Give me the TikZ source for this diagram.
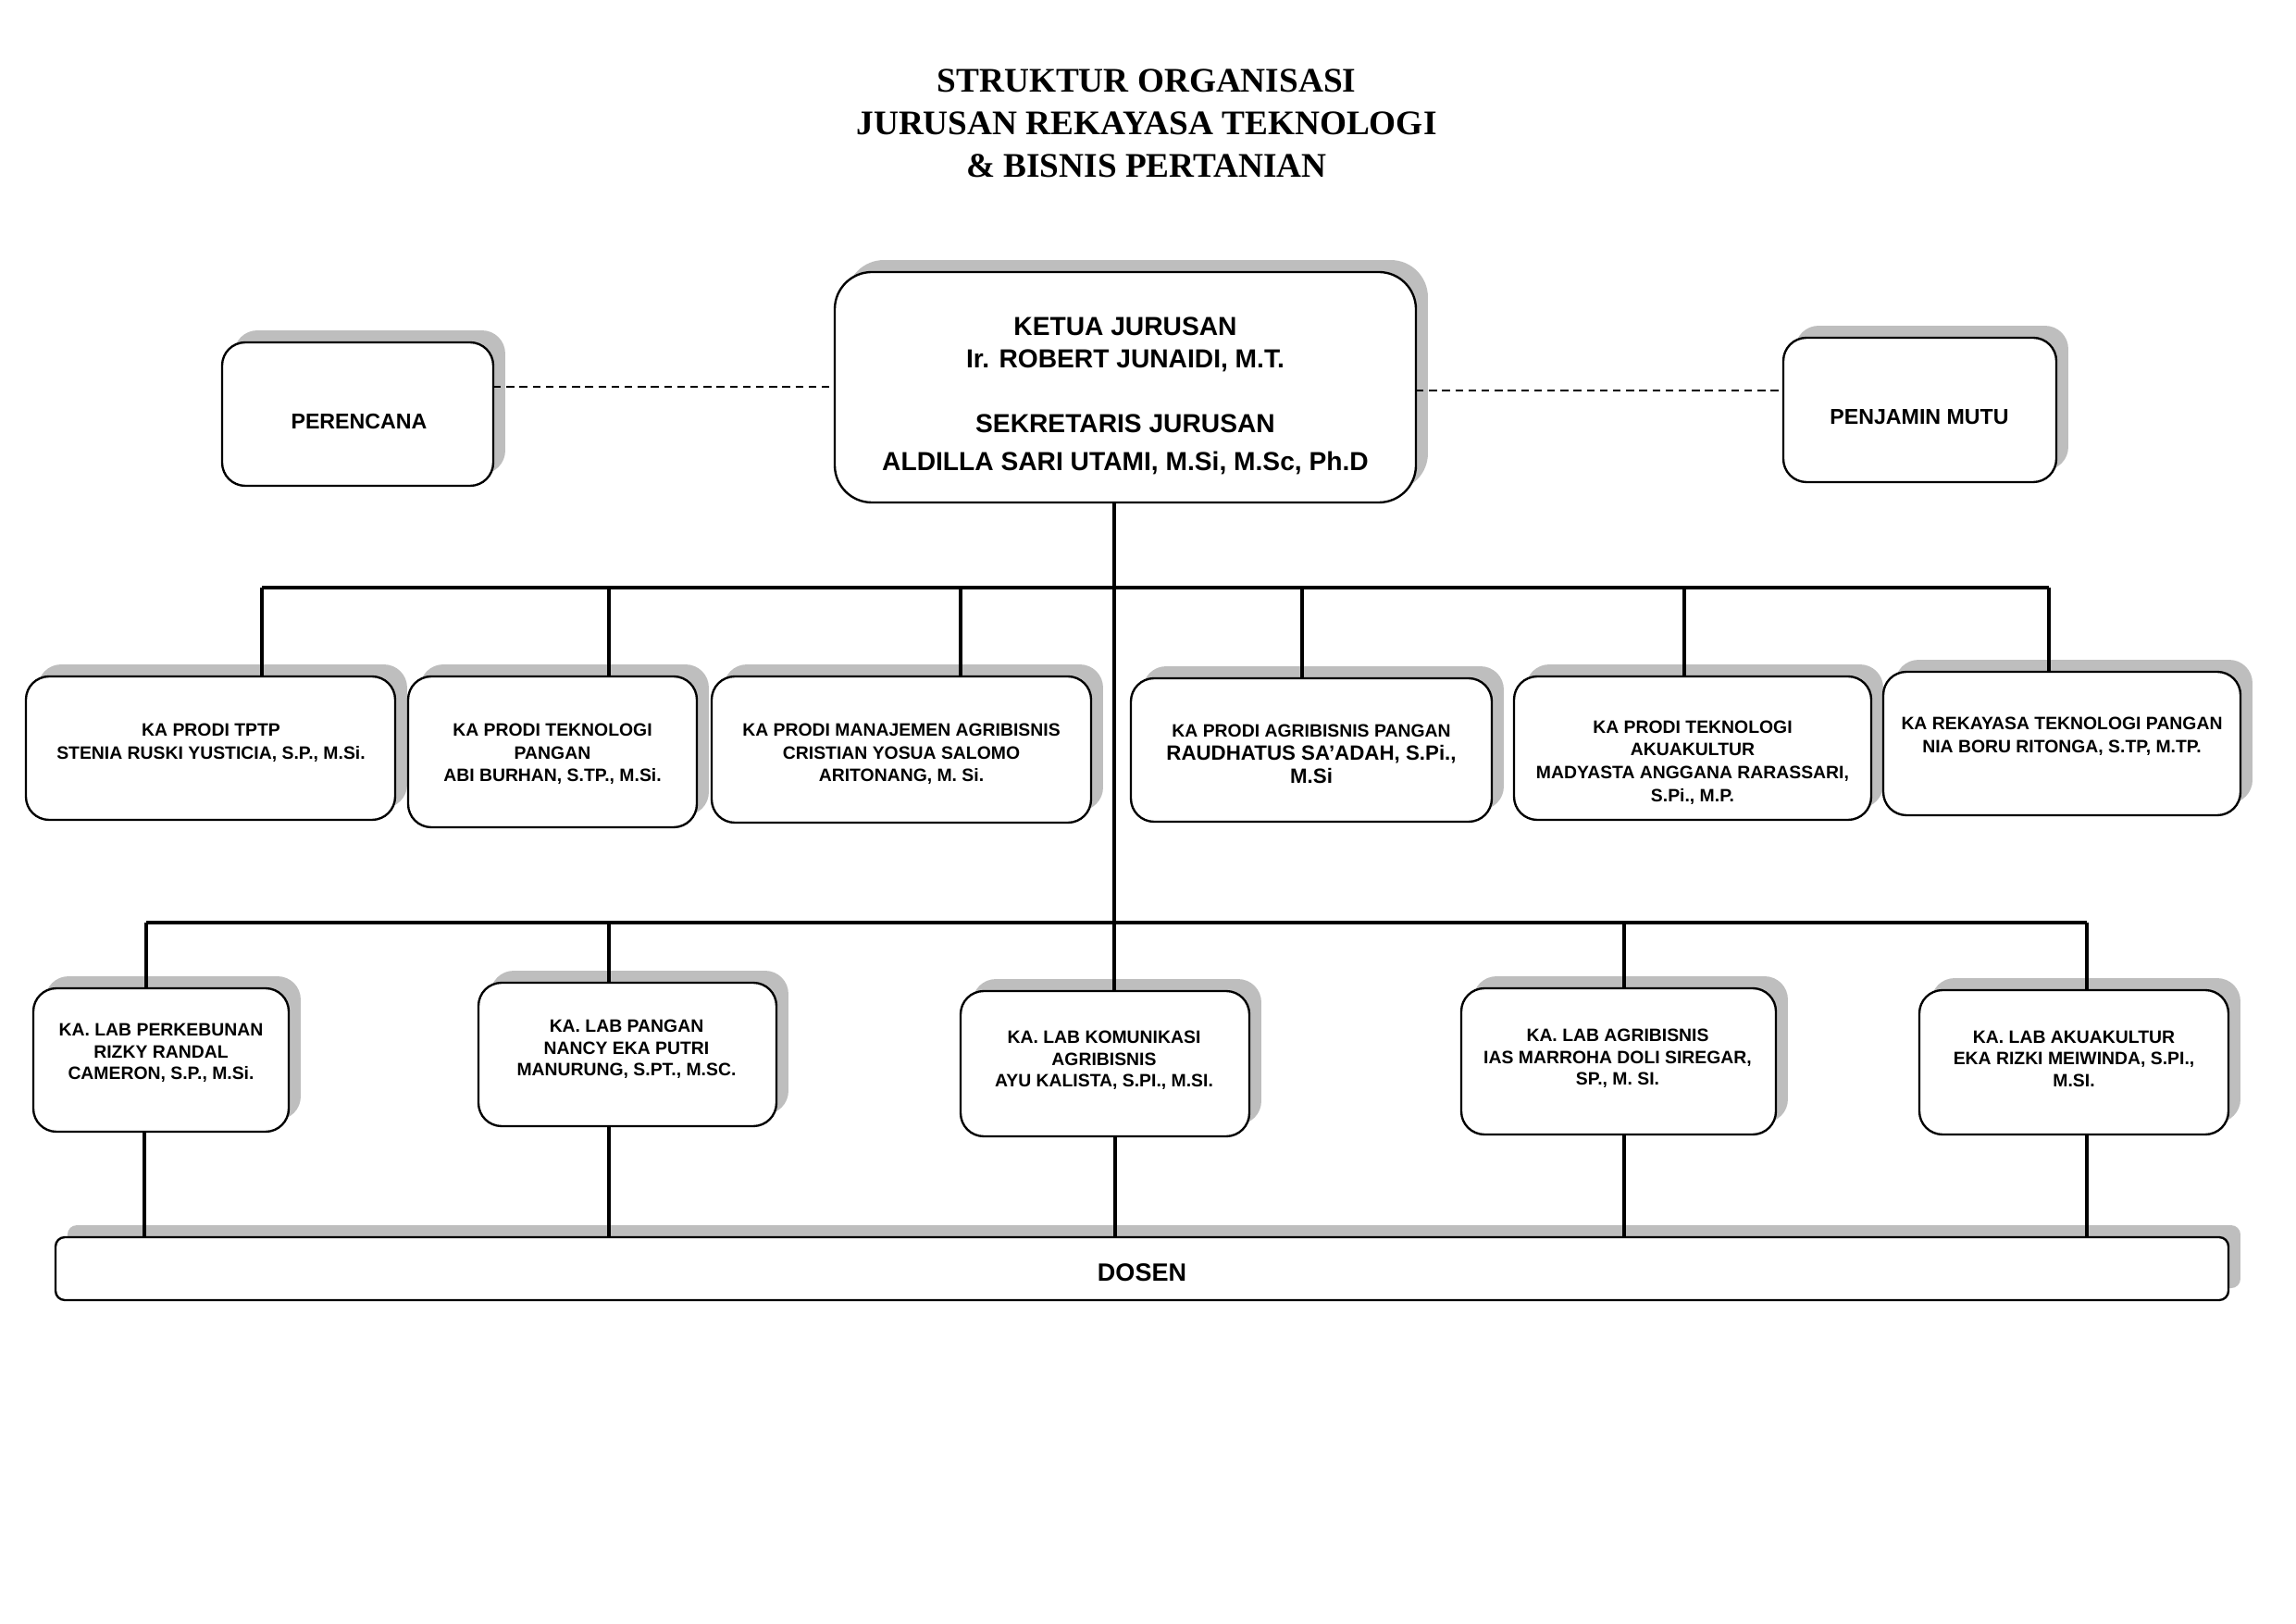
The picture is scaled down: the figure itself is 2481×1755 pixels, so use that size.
\documentclass[tikz,border=0pt]{standalone}
\usepackage{fontspec}
\setmainfont{Liberation Serif}
\newfontfamily\hv{Liberation Sans}[UprightFont={* Bold}]
\usetikzlibrary{shadows,fit}
\definecolor{shadowgray}{RGB}{190,190,190}
\tikzset{
  boxshape/.style={draw=black, line width=0.8pt, fill=white, inner sep=0pt, outer sep=0pt,
    drop shadow={shadow xshift=1.55mm, shadow yshift=1.55mm, fill=shadowgray, opacity=1}},
  bigbox/.style={boxshape, rounded corners=4.8mm},
  smallbox/.style={boxshape, rounded corners=3mm},
  flatbox/.style={boxshape, rounded corners=1.2mm},
  titletext/.style={align=center, inner sep=0pt, font=\fontsize{12.7}{15.7}\selectfont\bfseries},
  kettext/.style={align=center, inner sep=0pt, font=\hv\fontsize{9.6}{11.9}\selectfont},
  ket2text/.style={align=center, inner sep=0pt, font=\hv\fontsize{9.6}{13.9}\selectfont},
  sidetext/.style={align=center, inner sep=0pt, font=\hv\fontsize{7.9}{9.5}\selectfont},
  prodtext/.style={align=center, inner sep=0pt, font=\hv\fontsize{6.6}{8.4}\selectfont},
  labtext/.style={align=center, inner sep=0pt, font=\hv\fontsize{6.6}{8.0}\selectfont},
  dosentext/.style={align=center, inner sep=0pt, font=\hv\fontsize{9.2}{11}\selectfont},
  conn/.style={line width=1.2pt},
  connlow/.style={line width=1.2pt},
  dashconn/.style={line width=0.5pt, dash pattern=on 1mm off 0.7mm}
}
\begin{document}
\begin{tikzpicture}[x=0.1197mm, y=-0.1197mm]
\useasboundingbox[fill=white] (0,0) rectangle (2481,1755);

% title
\node[titletext] (title) at (1239,133) {STRUKTUR ORGANISASI\\JURUSAN REKAYASA TEKNOLOGI\\\& BISNIS PERTANIAN};

% boxes
\node[bigbox, fit={(902,294) (1530,543)}] (ket) {};
\node[smallbox, fit={(240,370) (533,525)}] (per) {};
\node[smallbox, fit={(1927,365) (2222,521)}] (pen) {};

\node[smallbox, fit={(28,731) (427,886)}] (p1) {};
\node[smallbox, fit={(441,731) (753,894)}] (p2) {};
\node[smallbox, fit={(769,731) (1179,889)}] (p3) {};
\node[smallbox, fit={(1222,733) (1612,888)}] (p4) {};
\node[smallbox, fit={(1636,731) (2022,886)}] (p5) {};
\node[smallbox, fit={(2035,726) (2421,881)}] (p6) {};

\node[smallbox, fit={(36,1068) (312,1223)}] (l1) {};
\node[smallbox, fit={(517,1062) (839,1217)}] (l2) {};
\node[smallbox, fit={(1038,1071) (1350,1228)}] (l3) {};
\node[smallbox, fit={(1579,1068) (1919,1226)}] (l4) {};
\node[smallbox, fit={(2074,1070) (2408,1226)}] (l5) {};

\node[flatbox, fit={(60,1337) (2408,1405)}] (dosen) {};

% texts
\node[kettext] (tketa) at (1216,372) {KETUA JURUSAN\\Ir. ROBERT JUNAIDI, M.T.};
\node[ket2text] (tketb) at (1216,480) {SEKRETARIS JURUSAN\\ALDILLA SARI UTAMI, M.Si, M.Sc, Ph.D};
\node[sidetext] (tper) at (388,456) {PERENCANA};
\node[sidetext] (tpen) at (2074,451) {PENJAMIN MUTU};

\node[prodtext] (tp1) at (228,803) {KA PRODI TPTP\\STENIA RUSKI YUSTICIA, S.P., M.Si.};
\node[prodtext] (tp2) at (597,815) {KA PRODI TEKNOLOGI\\PANGAN\\ABI BURHAN, S.TP., M.Si.};
\node[prodtext] (tp3) at (974,815) {KA PRODI MANAJEMEN AGRIBISNIS\\CRISTIAN YOSUA SALOMO\\ARITONANG, M. Si.};
\node[prodtext] (tp4) at (1417,815) {KA PRODI AGRIBISNIS PANGAN\\{\fontsize{7.6}{8.4}\selectfont RAUDHATUS SA’ADAH, S.Pi.,}\\{\fontsize{7.6}{8.4}\selectfont M.Si}};
\node[prodtext] (tp5) at (1829,824) {KA PRODI TEKNOLOGI\\AKUAKULTUR\\MADYASTA ANGGANA RARASSARI,\\S.Pi., M.P.};
\node[prodtext] (tp6) at (2228,796) {KA REKAYASA TEKNOLOGI PANGAN\\NIA BORU RITONGA, S.TP, M.TP.};

\node[labtext] (tl1) at (174,1138) {KA. LAB PERKEBUNAN\\RIZKY RANDAL\\CAMERON, S.P., M.Si.};
\node[labtext] (tl2) at (677,1134) {KA. LAB PANGAN\\NANCY EKA PUTRI\\MANURUNG, S.PT., M.SC.};
\node[labtext] (tl3) at (1193,1146) {KA. LAB KOMUNIKASI\\AGRIBISNIS\\AYU KALISTA, S.PI., M.SI.};
\node[labtext] (tl4) at (1748,1144) {KA. LAB AGRIBISNIS\\IAS MARROHA DOLI SIREGAR,\\SP., M. SI.};
\node[labtext] (tl5) at (2241,1144) {KA. LAB AKUAKULTUR\\EKA RIZKI MEIWINDA, S.PI.,\\M.SI.};

\node[dosentext] (tdosen) at (1234,1375) {DOSEN};

% dashed links
\coordinate (dl) at (700,418);
\coordinate (dr) at (1700,422);
\draw[dashconn] (per.east |- dl) -- (ket.west |- dl);
\draw[dashconn] (ket.east |- dr) -- (pen.west |- dr);

% trunk
\coordinate (tr) at (1204,635);
\draw[conn] (ket.south -| tr) -- (tr |- l3.north);

% bar 1
\coordinate (a1) at (283,635);
\coordinate (a2) at (658,635);
\coordinate (a3) at (1038,635);
\coordinate (a4) at (1407,635);
\coordinate (a5) at (1820,635);
\coordinate (a6) at (2214,635);
\draw[conn] (a1) -- (a6);
\draw[conn] (a1) -- (a1 |- p1.north);
\draw[conn] (a2) -- (a2 |- p2.north);
\draw[conn] (a3) -- (a3 |- p3.north);
\draw[conn] (a4) -- (a4 |- p4.north);
\draw[conn] (a5) -- (a5 |- p5.north);
\draw[conn] (a6) -- (a6 |- p6.north);

% bar 2
\coordinate (b1) at (158,997);
\coordinate (b2) at (658,997);
\coordinate (b4) at (1755,997);
\coordinate (b5) at (2255,997);
\draw[conn] (b1) -- (b5);
\draw[conn] (b1) -- (b1 |- l1.north);
\draw[conn] (b2) -- (b2 |- l2.north);
\draw[conn] (b4) -- (b4 |- l4.north);
\draw[conn] (b5) -- (b5 |- l5.north);

% to dosen
\coordinate (c1) at (156,1300);
\coordinate (c2) at (658,1300);
\coordinate (c3) at (1205,1300);
\coordinate (c4) at (1755,1300);
\coordinate (c5) at (2255,1300);
\draw[connlow] (l1.south -| c1) -- (c1 |- dosen.north);
\draw[connlow] (l2.south -| c2) -- (c2 |- dosen.north);
\draw[connlow] (l3.south -| c3) -- (c3 |- dosen.north);
\draw[connlow] (l4.south -| c4) -- (c4 |- dosen.north);
\draw[connlow] (l5.south -| c5) -- (c5 |- dosen.north);
\end{tikzpicture}
\end{document}
